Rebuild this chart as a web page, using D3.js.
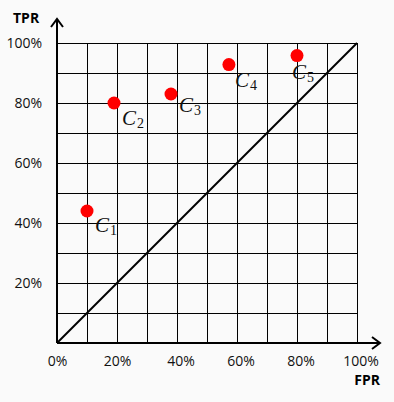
<!DOCTYPE html>
<html><head><meta charset="utf-8">
<script src="https://cdn.jsdelivr.net/npm/d3@7"></script>
<style>
html,body{margin:0;padding:0;background:#fafafa;}
svg{display:block;}
</style></head>
<body>
<svg id="c" width="394" height="402"></svg>
<script>
const classifiers = ["C1","C2","C3","C4","C5"];
const subscripts = ["1","2","3","4","5"];
const fpr = [0.10, 0.19, 0.38, 0.573, 0.80];
const tpr = [0.44, 0.80, 0.83, 0.928, 0.958];
const labelDx = [8, 8, 8, 6, -5];
const labelDy = [21, 22, 18, 22, 23];
const xTicks = [0, 0.2, 0.4, 0.6, 0.8, 1.0];
const yTicks = [0.2, 0.4, 0.6, 0.8, 1.0];
const gridVals = d3.range(1, 11).map(i => i / 10);

const svg = d3.select("#c");
const x = d3.scaleLinear().domain([0, 1]).range([57, 357]);
const y = d3.scaleLinear().domain([0, 1]).range([343, 43]);
const fmt = d3.format(".0%");

svg.append("rect").attr("width", 394).attr("height", 402).attr("fill", "#fafafa");

// grid
const g = svg.append("g").attr("stroke", "#000").attr("stroke-width", 1).attr("shape-rendering", "crispEdges");
g.selectAll(".vx").data(gridVals).join("line")
  .attr("x1", d => Math.round(x(d)) + 0.5).attr("x2", d => Math.round(x(d)) + 0.5)
  .attr("y1", y(0)).attr("y2", y(1));
g.selectAll(".hy").data(gridVals).join("line")
  .attr("y1", d => Math.round(y(d)) + 0.5).attr("y2", d => Math.round(y(d)) + 0.5)
  .attr("x1", x(0)).attr("x2", x(1));

// diagonal
svg.append("line").attr("x1", x(0)).attr("y1", y(0)).attr("x2", x(1)).attr("y2", y(1))
  .attr("stroke", "#000").attr("stroke-width", 2);

// axes with arrows
const ax = svg.append("g").attr("stroke", "#000").attr("stroke-width", 2).attr("fill", "none");
ax.append("line").attr("x1", x(0)).attr("y1", y(0)).attr("x2", 379).attr("y2", y(0));
ax.append("polyline").attr("points", `372,${y(0)-6} 380,${y(0)} 372,${y(0)+6}`);
ax.append("line").attr("x1", x(0)).attr("y1", y(0)).attr("x2", x(0)).attr("y2", 20);
ax.append("polyline").attr("points", `${x(0)-6},27 ${x(0)},19 ${x(0)+6},27`);

// tick labels
const font = "'Open Sans', 'Liberation Sans', sans-serif";
svg.selectAll(".xt").data(xTicks).join("text")
  .attr("x", d => x(d) + (d >= 0.4 ? 4 : 0.5)).attr("y", 366)
  .attr("text-anchor", "middle").attr("font-family", font).attr("font-size", 14)
  .attr("fill", "#111").text(d => fmt(d));
svg.selectAll(".yt").data(yTicks).join("text")
  .attr("x", 42).attr("y", d => y(d) + 5)
  .attr("text-anchor", "end").attr("font-family", font).attr("font-size", 14)
  .attr("fill", "#111").text(d => fmt(d));

svg.append("text").attr("x", 380).attr("y", 385).attr("text-anchor", "end")
  .attr("font-family", font).attr("font-weight", "bold").attr("font-size", 14).text("FPR");
svg.append("text").attr("x", 13).attr("y", 23)
  .attr("font-family", font).attr("font-weight", "bold").attr("font-size", 14).text("TPR");

// points
svg.selectAll(".pt").data(classifiers).join("circle")
  .attr("cx", (d, i) => x(fpr[i])).attr("cy", (d, i) => y(tpr[i]))
  .attr("r", 6.5).attr("fill", "#ff0000");

// labels
const lab = svg.selectAll(".lb").data(classifiers).join("text")
  .attr("x", (d, i) => x(fpr[i]) + labelDx[i]).attr("y", (d, i) => y(tpr[i]) + labelDy[i])
  .attr("font-family", "'Liberation Serif', 'DejaVu Serif', serif").attr("font-size", 21)
  .attr("fill", "#111");
lab.append("tspan").attr("font-style", "italic").text("C");
lab.append("tspan").attr("font-size", 14).attr("dy", 3).attr("dx", 1).text((d, i) => subscripts[i]);
</script>
</body></html>
